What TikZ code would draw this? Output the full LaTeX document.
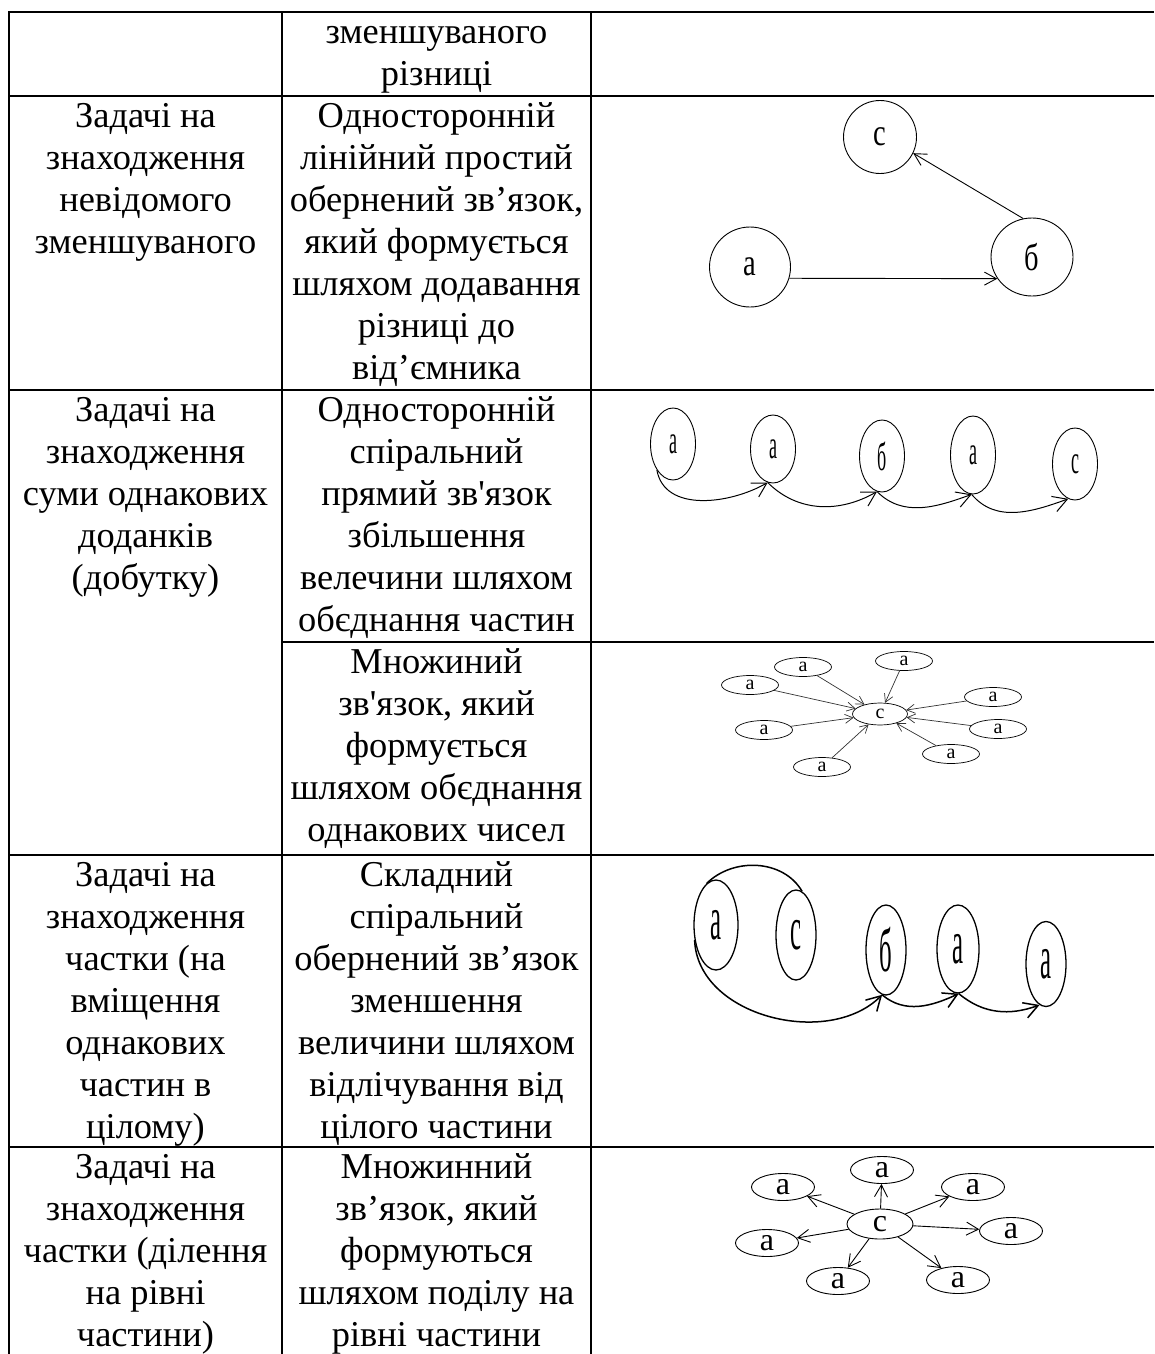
\documentclass[tikz,border=0pt]{standalone}
\usepackage{fontspec}
\usepackage{graphicx}
\setmainfont{Liberation Serif}[Ligatures=TeXOff]
\usetikzlibrary{arrows.meta,shapes.geometric}

\newcommand{\cellfont}{\fontsize{36.4}{42}\selectfont}
\newcommand{\rowstrut}{\rule{0pt}{31pt}}
\newcommand{\tall}[2]{\scalebox{#1}[1]{#2}}

\tikzset{tabline/.style={line width=2.6pt}}
\tikzset{cell/.style={anchor=north, align=center, inner sep=0pt, font=\cellfont}}
\tikzset{vtx/.style={draw, ellipse, inner sep=0pt, line width=0.9pt}}
\tikzset{link/.style={line width=0.9pt, -{Straight Barb[length=12pt,width=13pt]}}}
\tikzset{slink/.style={line width=0.7pt, draw=black!80, -{Straight Barb[length=8pt,width=9pt]}}}
\tikzset{curl/.style={line width=1.5pt, -{Straight Barb[length=14pt,width=16pt]}}}

\begin{document}
\begin{tikzpicture}[x=1pt,y=-1pt]
\useasboundingbox (0,0) rectangle (1154,1354);
% rules of the table
\draw[tabline] (9,1354) -- (9,12) -- (1154,12);
\draw[tabline] (282,12) -- (282,1354);
\draw[tabline] (591,12) -- (591,1354);
\draw[tabline] (9,96) -- (1154,96);
\draw[tabline] (9,390) -- (1154,390);
\draw[tabline] (282,642) -- (1154,642);
\draw[tabline] (9,855) -- (1154,855);
\draw[tabline] (9,1147) -- (1154,1147);

% texts
\node[cell] (t1b) at (436.5,12) {\rowstrut зменшуваного\\різниці};
\node[cell] (t2a) at (145.5,96) {\rowstrut Задачі на\\знаходження\\невідомого\\зменшуваного};
\node[cell] (t2b) at (436.5,96) {\rowstrut Односторонній\\лінійний простий\\обернений зв’язок,\\який формується\\шляхом додавання\\різниці до\\від’ємника};
\node[cell] (t3a) at (145.5,390) {\rowstrut Задачі на\\знаходження\\суми однакових\\доданків\\(добутку)};
\node[cell] (t3b) at (436.5,390) {\rowstrut Односторонній\\спіральний\\прямий зв'язок\\збільшення\\велечини шляхом\\обєднання частин};
\node[cell] (t4b) at (436.5,642) {\rowstrut Множиний\\зв'язок, який\\формується\\шляхом обєднання\\однакових чисел};
\node[cell] (t5a) at (145.5,855) {\rowstrut Задачі на\\знаходження\\частки (на\\вміщення\\однакових\\частин в\\цілому)};
\node[cell] (t5b) at (436.5,855) {\rowstrut Складний\\спіральний\\обернений зв’язок\\зменшення\\величини шляхом\\відлічування від\\цілого частини};
\node[cell] (t6a) at (145.5,1147) {\rowstrut Задачі на\\знаходження\\частки (ділення\\на рівні\\частини)};
\node[cell] (t6b) at (436.5,1147) {\rowstrut Множинний\\зв’язок, який\\формуються\\шляхом поділу на\\рівні частини};

% linear link
\begin{scope}[font=\fontsize{38}{38}\selectfont]
\node[vtx, minimum width=73pt, minimum height=73pt] (lc) at (880,137) {\tall{0.75}{с}};
\node[vtx, minimum width=81pt, minimum height=80pt] (la) at (750,267) {\tall{0.75}{а}};
\node[vtx, minimum width=82pt, minimum height=78pt] (lb) at (1032,257) {\tall{0.75}{б}};
\end{scope}
\draw[link] (la.-16) -- (lb.-148);
\draw[link] (lb.103) -- (lc.-26);

% spiral, direct
\begin{scope}[font=\fontsize{40}{40}\selectfont, minimum width=45pt, minimum height=72pt]
\node[vtx] (s1) at (673,444) {\tall{0.45}{а}};
\node[vtx, minimum height=68pt] (s2) at (773,449) {\tall{0.45}{а}};
\node[vtx] (s3) at (882,456) {\tall{0.45}{б}};
\node[vtx, minimum height=78pt] (s4) at (973,455) {\tall{0.45}{а}};
\node[vtx] (s5) at (1075,464) {\tall{0.45}{с}};
\end{scope}
\draw[curl, line width=1pt] (s1.238) to[out=-80,in=-150] (s2.-99);
\draw[curl, line width=1pt] (s2.-99) to[out=-45,in=-150] (s3.-98);
\draw[curl, line width=1pt] (s3.-98) to[out=-45,in=-160] (s4.-92);
\draw[curl, line width=1pt] (s4.-92) to[out=-50,in=-160] (s5.-101);

% star, in
\begin{scope}[font=\fontsize{20}{20}\selectfont, minimum width=57pt, minimum height=19pt]
\node[vtx, line width=0.7pt, minimum width=55pt, minimum height=22pt] (hub) at (880,714) {с};
\node[vtx, line width=0.7pt] (p1) at (803,667) {а};
\node[vtx, line width=0.7pt] (p2) at (750,685) {а};
\node[vtx, line width=0.7pt] (p3) at (904,661) {а};
\node[vtx, line width=0.7pt] (p4) at (993,697) {а};
\node[vtx, line width=0.7pt] (p5) at (998,729) {а};
\node[vtx, line width=0.7pt] (p6) at (951,754) {а};
\node[vtx, line width=0.7pt] (p7) at (822,767) {а};
\node[vtx, line width=0.7pt] (p8) at (764,730) {а};
\end{scope}
\path[slink] (p1) edge (hub) (p2) edge (hub) (p3) edge (hub) (p4) edge (hub)
  (p5) edge (hub) (p6) edge (hub) (p7) edge (hub) (p8) edge (hub);

% spiral, inverse
\begin{scope}[font=\fontsize{62}{62}\selectfont, minimum width=40pt, minimum height=90pt]
\node[vtx, line width=1.3pt, minimum width=44pt] (q1) at (716,925) {\tall{0.4}{а}};
\node[vtx, line width=1.3pt] (q2) at (796,935) {\tall{0.4}{с}};
\node[vtx, line width=1.3pt] (q3) at (886,950) {\tall{0.4}{б}};
\node[vtx, line width=1.3pt, minimum width=42pt, minimum height=88pt] (q4) at (958,949) {\tall{0.4}{а}};
\node[vtx, line width=1.3pt, minimum height=85pt] (q5) at (1046,964) {\tall{0.4}{а}};
\end{scope}
\draw[line width=1.5pt] (q1.103) to[out=45,in=120] (q2.82);
\draw[curl] (q1.215) to[out=-88,in=-135] (q3.-95);
\draw[curl] (q3.-95) to[out=-40,in=-155] (q4.-89);
\draw[curl] (q4.-89) to[out=-40,in=-160] (q5.-99);

% star, out
\begin{scope}[font=\fontsize{32}{32}\selectfont, minimum width=63pt, minimum height=27pt]
\node[vtx, minimum width=66pt, minimum height=30pt] (hc) at (880,1224) {с};
\node[vtx] (o1) at (882,1170) {а};
\node[vtx] (o2) at (783,1187) {а};
\node[vtx] (o3) at (973,1187) {а};
\node[vtx] (o4) at (767,1243) {а};
\node[vtx] (o5) at (1011,1231) {а};
\node[vtx] (o6) at (838,1281) {а};
\node[vtx] (o7) at (958,1280) {а};
\end{scope}
\path[link] (hc) edge (o1) (hc) edge (o2) (hc) edge (o3) (hc) edge (o4)
  (hc) edge (o5) (hc) edge (o6) (hc) edge (o7);
\end{tikzpicture}
\end{document}
